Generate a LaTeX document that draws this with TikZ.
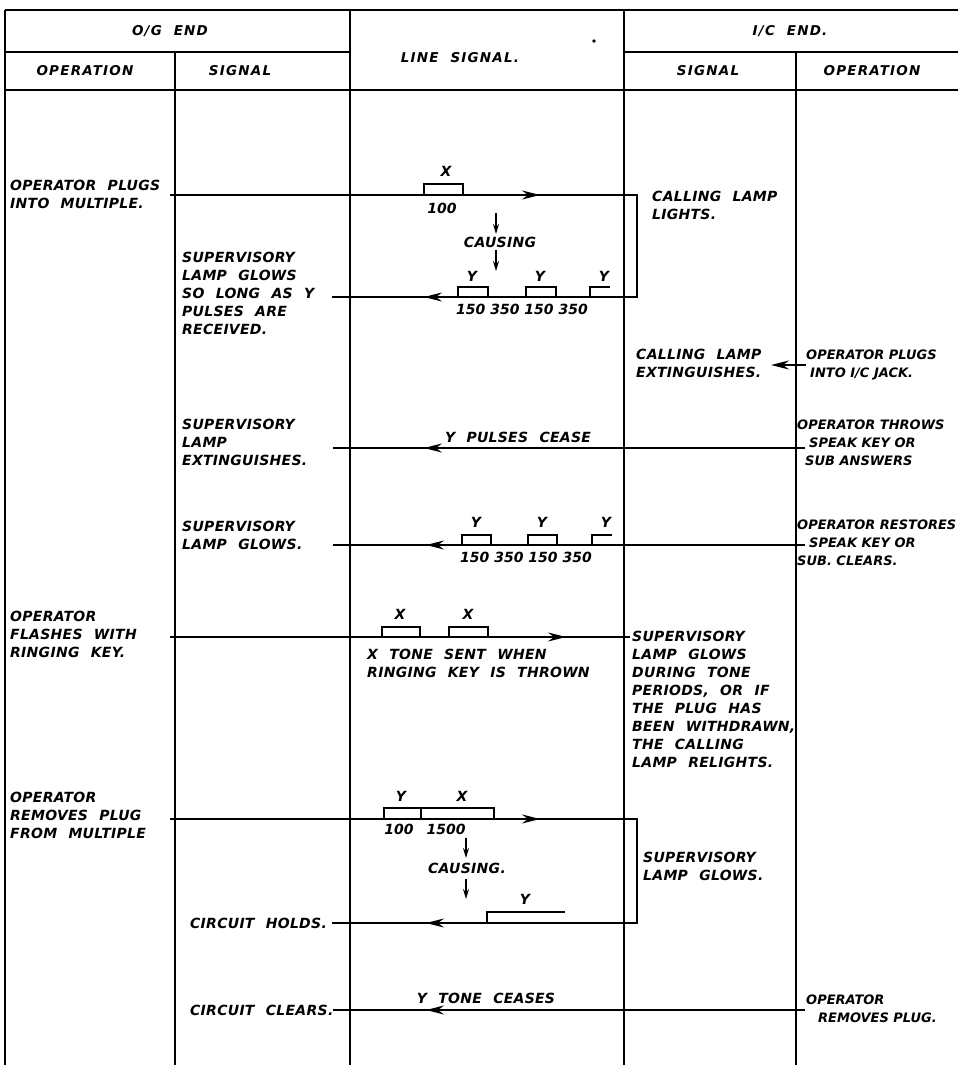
\documentclass[tikz,border=0pt]{standalone}
\usepackage{fontspec}
\newfontfamily\lettering[LetterSpace=2,WordSpace=2.2]{DejaVu Sans Bold Oblique}
\newfontfamily\letteringtight{DejaVu Sans Bold Oblique}
\newfontfamily\letteringhd[LetterSpace=9,WordSpace=2]{DejaVu Sans Bold Oblique}
\newfontfamily\letteringnum{DejaVu Sans Bold Oblique}
\usetikzlibrary{arrows.meta}
\begin{document}
\begin{tikzpicture}[x=1pt,y=-1pt,
  rule/.style={line width=1.6pt},
  sig/.style={line width=1.8pt},
  tipr/.style={-{Stealth[length=18pt,width=9pt,inset=6pt]}},
  small/.style={line width=1.4pt,-{Stealth[length=10pt,width=6pt]}},
  pulse/.style={line width=1.4pt},
  lbl/.style={inner sep=0pt, font=\lettering\fontsize{14}{18}\selectfont, align=left},
  num/.style={inner sep=0pt, font=\letteringnum\fontsize{14}{18}\selectfont},
  rlbl/.style={inner sep=0pt, font=\letteringtight\fontsize{13}{18}\selectfont, align=left},
  hd/.style={inner sep=0pt, font=\letteringhd\fontsize{13.5}{15}\selectfont},
]
\useasboundingbox (0,0) rectangle (958,1065);
\clip (0,0) rectangle (958,1065);
% ---------- table ----------
\draw[rule] (5,10) -- (958,10);
\draw[rule] (5,52) -- (350,52);
\draw[rule] (624,52) -- (958,52);
\draw[rule] (5,90) -- (958,90);
\draw[rule] (5,10) -- (5,1065);
\draw[rule] (175,52) -- (175,1065);
\draw[rule] (350,10) -- (350,1065);
\draw[rule] (624,10) -- (624,1065);
\draw[rule] (796,52) -- (796,1065);
\fill (594,41) circle (1.8pt);
% headers
\node[hd] (hog) at (170,31) {O/G END};
\node[hd] (hic) at (790,31) {I/C END.};
\node[hd] (hls) at (460,58) {LINE SIGNAL.};
\node[hd] (hop1) at (85,71) {OPERATION};
\node[hd] (hsg1) at (240,71) {SIGNAL};
\node[hd] (hsg2) at (708,71) {SIGNAL};
\node[hd] (hop2) at (872,71) {OPERATION};
% ---------- row 1 ----------
\node[lbl,anchor=north west] (op1) at (10,180) {OPERATOR PLUGS\\INTO MULTIPLE.};
\coordinate (r1a) at (170,195);
\coordinate (r1t) at (540,195);
\coordinate (r1b) at (637,195);
\coordinate (r1c) at (637,297);
\coordinate (r1u) at (424,297);
\coordinate (r1d) at (332,297);
\draw[sig] (r1a) -- (r1b) -- (r1c) -- (r1d);
\draw[sig,tipr] (r1a) -- (r1t);
\draw[sig,tipr] (r1c) -- (r1u);
\draw[pulse] (424,195) |- (463,184) -- (463,195);
\node[lbl] (x1) at (446,171) {X};
\node[num] (n1) at (442,208) {100};
\coordinate (c1a) at (496,213); \coordinate (c1b) at (496,234);
\coordinate (c1c) at (496,250); \coordinate (c1d) at (496,271);
\draw[small] (c1a) -- (c1b);
\node[lbl] (cau1) at (500,242) {CAUSING};
\draw[small] (c1c) -- (c1d);
\draw[pulse] (458,297) |- (488,287) -- (488,297);
\draw[pulse] (526,297) |- (556,287) -- (556,297);
\draw[pulse] (590,297) |- (610,287);
\node[lbl] (y1a) at (472,276) {Y};
\node[lbl] (y1b) at (540,276) {Y};
\node[lbl] (y1c) at (604,276) {Y};
\node[num,anchor=west] (n1b) at (456,309) {150 350 150 350};
\node[lbl,anchor=north west] (s1) at (182,252) {SUPERVISORY\\LAMP GLOWS\\SO LONG AS Y\\PULSES ARE\\RECEIVED.};
\node[lbl,anchor=north west] (cl1) at (652,191) {CALLING LAMP\\LIGHTS.};
% ---------- row 2 ----------
\node[lbl,anchor=north west] (cl2) at (636,349) {CALLING LAMP\\EXTINGUISHES.};
\node[rlbl,anchor=north west] (op2) at (806,350) {OPERATOR PLUGS\\\hspace*{4pt}INTO I/C JACK.};
\coordinate (a2s) at (806,365);
\coordinate (a2e) at (771,365);
\draw[sig,tipr] (a2s) -- (a2e);
% ---------- row 3 ----------
\coordinate (r3a) at (805,448);
\coordinate (r3t) at (424,448);
\coordinate (r3b) at (333,448);
\draw[sig] (r3a) -- (r3b);
\draw[sig,tipr] (r3a) -- (r3t);
\node[lbl] (ypc) at (518,437) {Y PULSES CEASE};
\node[lbl,anchor=north west] (s3) at (182,419) {SUPERVISORY\\LAMP\\EXTINGUISHES.};
\node[rlbl,anchor=north west] (op3) at (797,420) {OPERATOR THROWS\\\hspace*{12pt}SPEAK KEY OR\\\hspace*{8pt}SUB ANSWERS};
% ---------- row 4 ----------
\coordinate (r4a) at (805,545);
\coordinate (r4t) at (426,545);
\coordinate (r4b) at (333,545);
\draw[sig] (r4a) -- (r4b);
\draw[sig,tipr] (r4a) -- (r4t);
\draw[pulse] (462,545) |- (491,535) -- (491,545);
\draw[pulse] (528,545) |- (557,535) -- (557,545);
\draw[pulse] (592,545) |- (612,535);
\node[lbl] (y4a) at (476,522) {Y};
\node[lbl] (y4b) at (542,522) {Y};
\node[lbl] (y4c) at (606,522) {Y};
\node[num,anchor=west] (n4) at (460,557) {150 350 150 350};
\node[lbl,anchor=north west] (s4) at (182,521) {SUPERVISORY\\LAMP GLOWS.};
\node[rlbl,anchor=north west] (op4) at (797,520) {OPERATOR RESTORES\\\hspace*{12pt}SPEAK KEY OR\\SUB. CLEARS.};
% ---------- row 5 ----------
\coordinate (r5a) at (170,637);
\coordinate (r5t) at (566,637);
\coordinate (r5b) at (630,637);
\draw[sig] (r5a) -- (r5b);
\draw[sig,tipr] (r5a) -- (r5t);
\draw[pulse] (382,637) |- (420,627) -- (420,637);
\draw[pulse] (449,637) |- (488,627) -- (488,637);
\node[lbl] (x5a) at (400,614) {X};
\node[lbl] (x5b) at (468,614) {X};
\node[lbl,anchor=north west] (xt) at (367,649) {X TONE SENT WHEN\\RINGING KEY IS THROWN};
\node[lbl,anchor=north west] (op5) at (10,611) {OPERATOR\\FLASHES WITH\\RINGING KEY.};
\node[lbl,anchor=north west] (s5) at (632,631) {SUPERVISORY\\LAMP GLOWS\\DURING TONE\\PERIODS, OR IF\\THE PLUG HAS\\BEEN WITHDRAWN,\\THE CALLING\\LAMP RELIGHTS.};
% ---------- row 6 ----------
\coordinate (r6a) at (170,819);
\coordinate (r6t) at (540,819);
\coordinate (r6b) at (637,819);
\coordinate (r6c) at (637,923);
\coordinate (r6u) at (426,923);
\coordinate (r6d) at (332,923);
\draw[sig] (r6a) -- (r6b) -- (r6c) -- (r6d);
\draw[sig,tipr] (r6a) -- (r6t);
\draw[sig,tipr] (r6c) -- (r6u);
\draw[pulse] (384,819) |- (494,808) -- (494,819);
\draw[pulse] (421,808) -- (421,819);
\node[lbl] (y6) at (401,796) {Y};
\node[lbl] (x6) at (462,796) {X};
\node[num] (n6a) at (399,829) {100};
\node[num] (n6b) at (446,829) {1500};
\coordinate (c6a) at (466,838); \coordinate (c6b) at (466,858);
\coordinate (c6c) at (466,879); \coordinate (c6d) at (466,899);
\draw[small] (c6a) -- (c6b);
\node[lbl] (cau6) at (467,868) {CAUSING.};
\draw[small] (c6c) -- (c6d);
\draw[pulse] (487,923) |- (565,912);
\node[lbl] (y6b) at (525,899) {Y};
\node[lbl,anchor=west] (ch) at (190,923) {CIRCUIT HOLDS.};
\node[lbl,anchor=north west] (s6) at (643,852) {SUPERVISORY\\LAMP GLOWS.};
\node[lbl,anchor=north west] (op6) at (10,792) {OPERATOR\\REMOVES PLUG\\FROM MULTIPLE};
% ---------- row 7 ----------
\coordinate (r7a) at (805,1010);
\coordinate (r7t) at (426,1010);
\coordinate (r7b) at (333,1010);
\draw[sig] (r7a) -- (r7b);
\draw[sig,tipr] (r7a) -- (r7t);
\node[lbl] (ytc) at (486,998) {Y TONE CEASES};
\node[lbl,anchor=west] (cc) at (190,1010) {CIRCUIT CLEARS.};
\node[rlbl,anchor=north west] (op7) at (806,995) {OPERATOR\\\hspace*{12pt}REMOVES PLUG.};
\end{tikzpicture}
\end{document}
